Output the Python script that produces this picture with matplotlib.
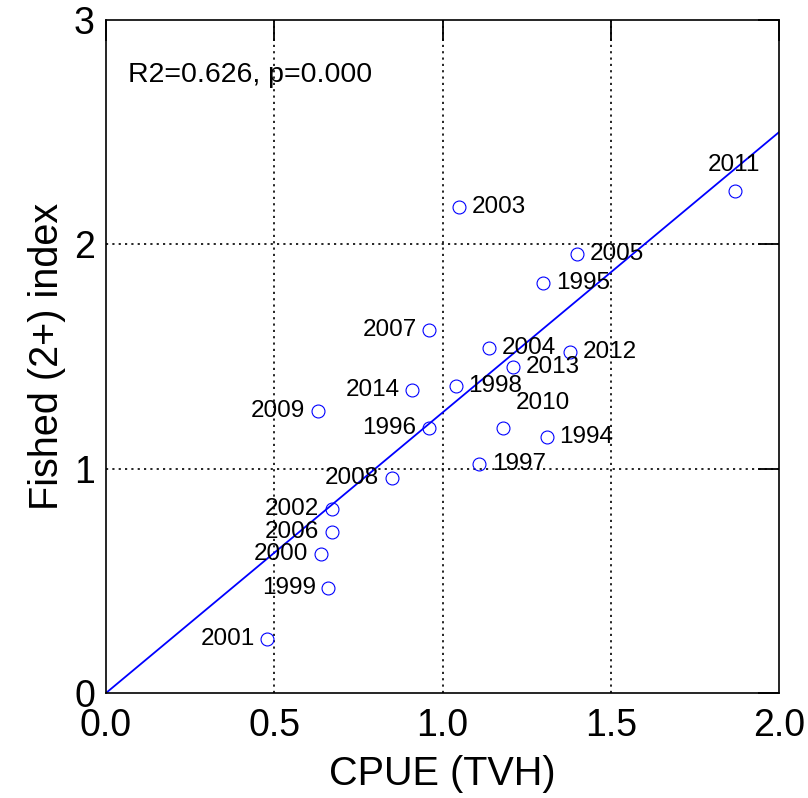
import matplotlib
matplotlib.use("Agg")
import matplotlib.pyplot as plt
import numpy as np

plt.rcParams['font.family'] = ['Liberation Sans', 'DejaVu Sans']

years = [2011, 2003, 2005, 1995, 2007, 2004, 2012, 2013, 1998, 2014, 1996,
         2010, 1994, 1997, 2009, 2008, 2002, 2006, 2000, 1999, 2001]
cpue = [1.869, 1.050, 1.400, 1.300, 0.960, 1.139, 1.380, 1.210, 1.040, 0.910, 0.960,
        1.180, 1.310, 1.109, 0.629, 0.849, 0.671, 0.671, 0.639, 0.661, 0.479]
fished = [2.238, 2.168, 1.958, 1.828, 1.618, 1.538, 1.520, 1.453, 1.367, 1.351, 1.180,
          1.180, 1.140, 1.021, 1.258, 0.960, 0.820, 0.719, 0.621, 0.469, 0.239]
# label placement: 'r' right, 'l' left, 'a' above, 'ar' above-right
placement = ['a', 'r', 'r', 'r', 'l', 'r', 'r', 'r', 'r', 'l', 'l',
             'ar', 'r', 'r', 'l', 'l', 'l', 'l', 'l', 'l', 'l']
slope = 1.25
r2_text = "R2=0.626, p=0.000"

fig = plt.figure(figsize=(8.08, 7.98), dpi=100)
ax = fig.add_axes([106/808, 1-693/798, (779-106)/808, (693-20)/798])

ax.set_xlim(0, 2)
ax.set_ylim(0, 3)

# grid
for gx in [0.5, 1.0, 1.5]:
    ax.axvline(gx, color='black', linestyle=(0, (1.3, 2.5)), linewidth=1.2, zorder=1)
for gy in [1, 2]:
    ax.axhline(gy, color='black', linestyle=(0, (1.3, 2.5)), linewidth=1.2, zorder=1)

xs = np.array([0, 2.0])
ax.plot(xs, slope * xs, color='#0000ff', linewidth=1.3, zorder=2)

ax.plot(cpue, fished, linestyle='none', marker='o', markersize=9.3,
        markerfacecolor='none', markeredgecolor='#0000ff', markeredgewidth=0.8, zorder=3)

offs = {'r': ((9, 0), 'left', 'center'),
        'l': ((-9, 0), 'right', 'center'),
        'a': ((-1, 19), 'center', 'center'),
        'ar': ((9, 18), 'left', 'center')}
for yr, x, y, p in zip(years, cpue, fished, placement):
    (dx, dy), ha, va = offs[p]
    ax.annotate(str(yr), (x, y), xytext=(dx, dy), textcoords='offset points',
                ha=ha, va=va, fontsize=17.5, color='black', zorder=4)

ax.text(0.0645, 2.725, r2_text, fontsize=20.5, ha='left', va='baseline')

ax.set_xticks([0, 0.5, 1.0, 1.5, 2.0])
ax.set_xticklabels(['0.0', '0.5', '1.0', '1.5', '2.0'])
ax.set_yticks([0, 1, 2, 3])
ax.set_yticklabels(['0', '1', '2', '3'])

ax.tick_params(axis='x', which='both', bottom=False, top=True, direction='in',
               length=15, width=1.3, labelsize=27, pad=11, labelbottom=True)
ax.tick_params(axis='y', which='both', left=False, right=True, direction='in',
               length=15, width=1.3, labelsize=27, pad=8, labelleft=True)

for s in ax.spines.values():
    s.set_linewidth(1.2)
    s.set_color('black')

ax.set_xlabel('CPUE (TVH)', fontsize=28.5, labelpad=8)
ax.set_ylabel('Fished (2+) index', fontsize=28.5, labelpad=6)

fig.savefig('out.png', dpi=100)
